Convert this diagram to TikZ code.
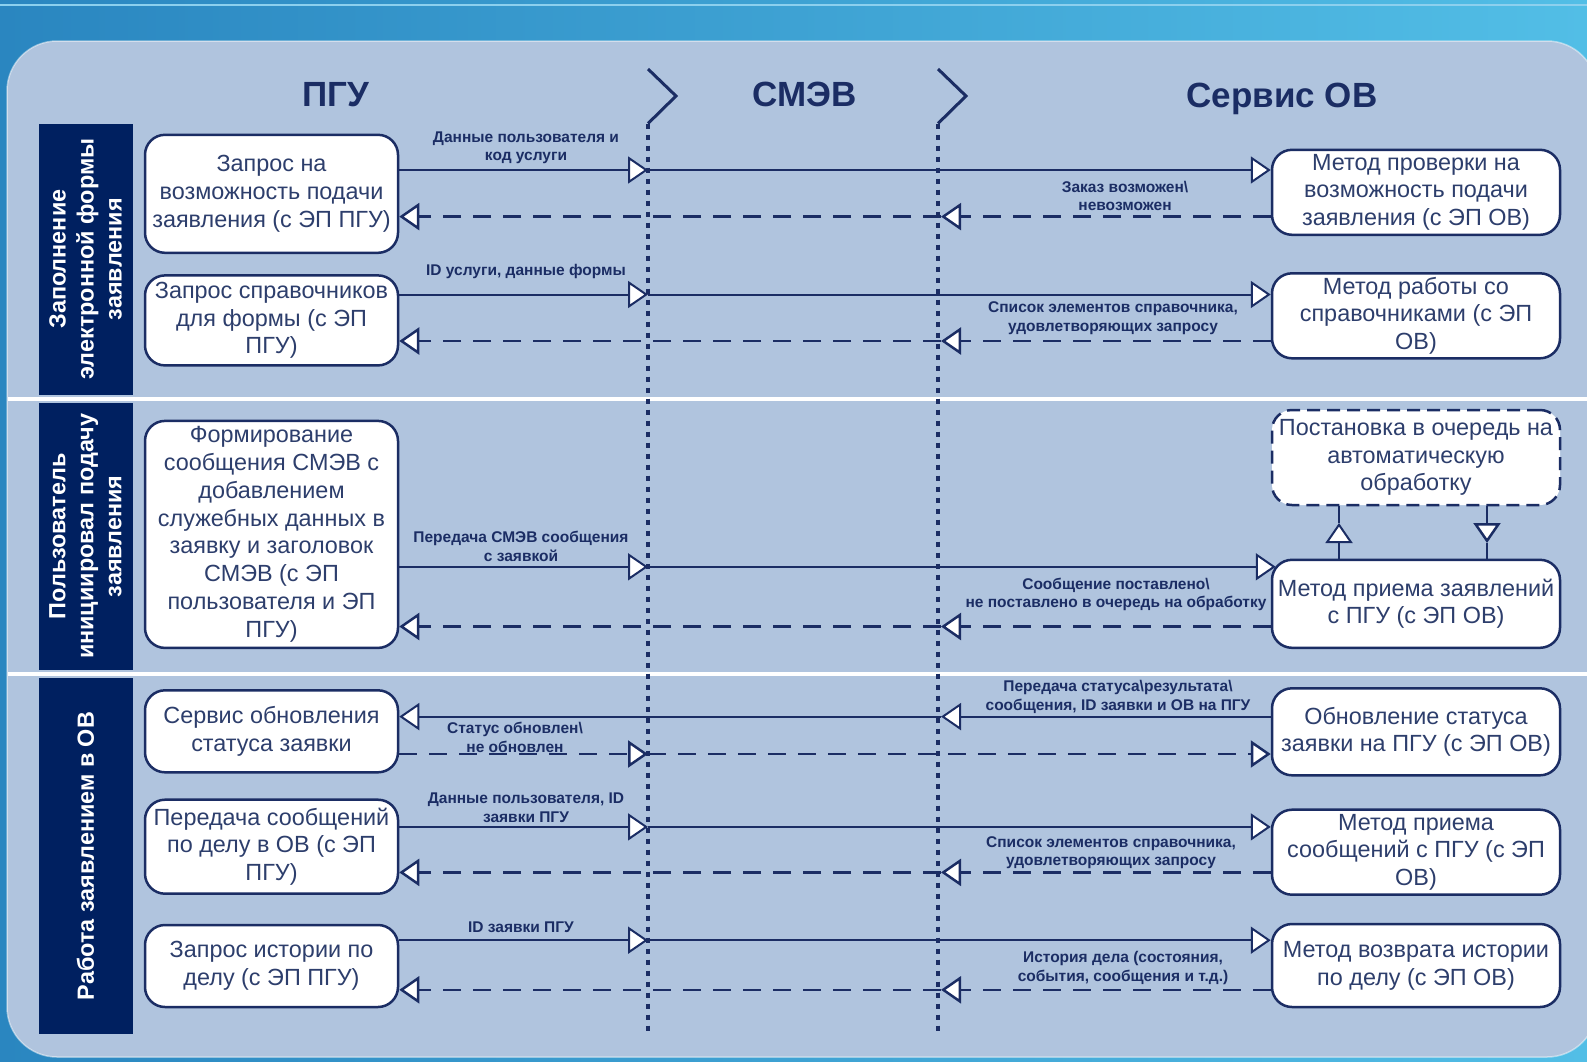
\documentclass[tikz,border=0pt]{standalone}
\usepackage{fontspec}
\setmainfont{Liberation Sans}
\usetikzlibrary{arrows.meta,calc}
\definecolor{navy}{RGB}{27,45,100}
\definecolor{boxtxt}{RGB}{45,62,108}
\definecolor{lanebg}{RGB}{0,32,96}
\definecolor{panel}{RGB}{176,196,222}
\definecolor{outerL}{RGB}{42,134,192}
\definecolor{outerR}{RGB}{82,190,230}
\definecolor{hilite}{RGB}{140,208,238}
\tikzset{
  OpenTri/.tip={Triangle[open,fill=white,length=20pt,width=27pt]},
  box/.style={draw=navy, line width=2.5pt, fill=white, rounded corners=20pt, align=center,
    text=boxtxt, font=\fontsize{23.4}{27.8}\selectfont, inner sep=0pt, minimum width=#1},
  box/.default=253pt,
  rbox/.style={box=288pt},
  lbl/.style={align=center, text=navy, font=\bfseries\fontsize{15.5}{18.5}\selectfont, inner sep=0pt},
  hdr/.style={text=navy, font=\bfseries\fontsize{35}{40}\selectfont, inner sep=0pt, anchor=base},
  lanehdr/.style={fill=lanebg, text=white, rotate=90, align=center, minimum height=94pt,
    font=\bfseries\fontsize{23.4}{28}\selectfont, inner sep=0pt},
  sol/.style={draw=navy, line width=2pt},
  dsh/.style={draw=navy, line width=2.5pt, dash pattern=on 18pt off 12pt},
  life/.style={draw=navy, line width=4.5pt, dash pattern=on 5pt off 6pt},
  chev/.style={draw=navy, line width=3pt}
}
\begin{document}
\begin{tikzpicture}[x=1pt,y=-1pt]
\useasboundingbox (0,0) rectangle (1587,1061);
% background
\fill[left color=outerL, right color=outerR] (0,0) rectangle (1587,1061);
\draw[hilite, line width=2pt] (0,5) -- (1587,5);
\fill[panel, rounded corners=50pt] (7,41) rectangle (1597,1057);
\draw[white, opacity=0.45, line width=1.5pt, rounded corners=50pt] (7,41) rectangle (1597,1057);
% separators
\fill[white] (8,397) rectangle (1587,401);
\fill[white] (8,672) rectangle (1587,676);
% lane headers
\node[lanehdr, minimum width=271.2pt] (h1) at (85.5,259.1) {Заполнение\\электронной формы\\заявления};
\node[lanehdr, minimum width=267.2pt] (h2) at (85.5,536.4) {Пользователь\\инициировал подачу\\заявления};
\node[lanehdr, minimum width=356pt] (h3) at (85.5,856) {Работа заявлением в ОВ};
% column headers
\node[hdr] (hp) at (336,106.5) {ПГУ};
\node[hdr] (hs) at (805,106.5) {СМЭВ};
\node[hdr] (ho) at (1282,107) {Сервис ОВ};
% lifelines
\coordinate (l1t) at (648,123.5);
\coordinate (l1b) at (648,1034);
\coordinate (l2t) at (938,123.5);
\coordinate (l2b) at (938,1034);
\draw[chev] (648,69) -- (676,96) -- (l1t);
\draw[chev] (938,69) -- (966,96) -- (l2t);
\draw[life] (l1t) -- (l1b);
\draw[life] (l2t) -- (l2b);
% left boxes
\node[box, minimum height=118pt] (b1) at (271.5,193.8) {Запрос на\\возможность подачи\\заявления (с ЭП ПГУ)};
\node[box, minimum height=90pt] (b2) at (271.5,320.4) {Запрос справочников\\для формы (с ЭП\\ПГУ)};
\node[box, minimum height=227pt] (b3) at (271.5,534.4) {Формирование\\сообщения СМЭВ с\\добавлением\\служебных данных в\\заявку и заголовок\\СМЭВ (с ЭП\\пользователя и ЭП\\ПГУ)};
\node[box, minimum height=82pt] (b4) at (271.5,731.3) {Сервис обновления\\статуса заявки};
\node[box, minimum height=94pt] (b5) at (271.5,846.7) {Передача сообщений\\по делу в ОВ (с ЭП\\ПГУ)};
\node[box, minimum height=82pt] (b6) at (271.5,966) {Запрос истории по\\делу (с ЭП ПГУ)};
% right boxes
\node[rbox, minimum height=85pt] (r1) at (1416,192.3) {Метод проверки на\\возможность подачи\\заявления (с ЭП ОВ)};
\node[rbox, minimum height=85pt] (r2) at (1416,315.8) {Метод работы со\\справочниками (с ЭП\\ОВ)};
\node[rbox, minimum height=95pt, dash pattern=on 13pt off 7pt] (r3) at (1416,457.5) {Постановка в очередь на\\автоматическую\\обработку};
\node[rbox, minimum height=88pt] (r4) at (1416,603.8) {Метод приема заявлений\\с ПГУ (с ЭП ОВ)};
\node[rbox, minimum height=87pt] (r5) at (1416,731.8) {Обновление статуса\\заявки на ПГУ (с ЭП ОВ)};
\node[rbox, minimum height=85pt] (r6) at (1416,852.2) {Метод приема\\сообщений с ПГУ (с ЭП\\ОВ)};
\node[rbox, minimum height=83pt] (r7) at (1416,965.5) {Метод возврата истории\\по делу (с ЭП ОВ)};
% arrow points on lifelines
\coordinate (a1) at (648,170);
\coordinate (a2) at (941,216.6);
\coordinate (a3) at (648,294.5);
\coordinate (a4) at (941,341);
\coordinate (a5) at (648,566.8);
\coordinate (a6) at (941,626.5);
\coordinate (a8) at (941,716.6);
\coordinate (a9) at (648,754);
\coordinate (a10) at (648,826.9);
\coordinate (a11) at (941,872.4);
\coordinate (a12) at (648,940.2);
\coordinate (a13) at (941,989.8);
\coordinate (q1) at (1339,523);
\coordinate (q2) at (1487,543);
% lane 1
\draw[sol,-OpenTri] (b1.east|-a1) -- (a1);
\draw[sol,-OpenTri] (a1) -- (r1.west|-a1);
\draw[dsh,-OpenTri] (r1.west|-a2) -- (a2);
\draw[dsh,-OpenTri] (a2) -- (b1.east|-a2);
\draw[sol,-OpenTri] (b2.east|-a3) -- (a3);
\draw[sol,-OpenTri] (a3) -- (r2.west|-a3);
\draw[dsh,-OpenTri] (r2.west|-a4) -- (a4);
\draw[dsh,-OpenTri] (a4) -- (b2.east|-a4);
% lane 2
\draw[sol,-OpenTri] (b3.east|-a5) -- (a5);
\draw[sol,-OpenTri] (a5) -- ($(r4.west|-a5)+(5,0)$);
\draw[dsh,-OpenTri] (r4.west|-a6) -- (a6);
\draw[dsh,-OpenTri] (a6) -- (b3.east|-a6);
\draw[sol,-OpenTri] (r4.north-|q1) -- (q1);
\draw[sol] (q1) -- (r3.south-|q1);
\draw[dsh,-OpenTri] (r3.south-|q2) -- (q2);
\draw[sol] (q2) -- (r4.north-|q2);
% lane 3
\draw[sol,-OpenTri] (r5.west|-a8) -- (a8);
\draw[sol,-OpenTri] (a8) -- (b4.east|-a8);
\draw[dsh,-OpenTri] (b4.east|-a9) -- (a9);
\draw[dsh,-OpenTri] (a9) -- (r5.west|-a9);
\draw[sol,-OpenTri] (b5.east|-a10) -- (a10);
\draw[sol,-OpenTri] (a10) -- (r6.west|-a10);
\draw[dsh,-OpenTri] (r6.west|-a11) -- (a11);
\draw[dsh,-OpenTri] (a11) -- (b5.east|-a11);
\draw[sol,-OpenTri] (b6.east|-a12) -- (a12);
\draw[sol,-OpenTri] (a12) -- (r7.west|-a12);
\draw[dsh,-OpenTri] (r7.west|-a13) -- (a13);
\draw[dsh,-OpenTri] (a13) -- (b6.east|-a13);
% labels
\node[lbl] (t1) at (526,148) {Данные пользователя и\\код услуги};
\node[lbl] (t2) at (1125,196) {Заказ возможен\textbackslash\\невозможен};
\node[lbl] (t3) at (526,271) {ID услуги, данные формы};
\node[lbl] (t4) at (1113,318) {Список элементов справочника,\\удовлетворяющих запросу};
\node[lbl] (t5) at (521,546.5) {Передача СМЭВ сообщения\\с заявкой};
\node[lbl] (t6) at (1116,594.5) {Сообщение поставлено\textbackslash\\не поставлено в очередь на обработку};
\node[lbl] (t8) at (1118,697) {Передача статуса\textbackslash результата\textbackslash\\сообщения, ID заявки и ОВ на ПГУ};
\node[lbl] (t9) at (515,737.5) {Статус обновлен\textbackslash\\не обновлен};
\node[lbl] (t10) at (526,807.7) {Данные пользователя, ID\\заявки ПГУ};
\node[lbl] (t11) at (1111,852.7) {Список элементов справочника,\\удовлетворяющих запросу};
\node[lbl] (t12) at (521,927) {ID заявки ПГУ};
\node[lbl] (t13) at (1123,968) {История дела (состояния,\\события, сообщения и т.д.)};
\end{tikzpicture}
\end{document}
